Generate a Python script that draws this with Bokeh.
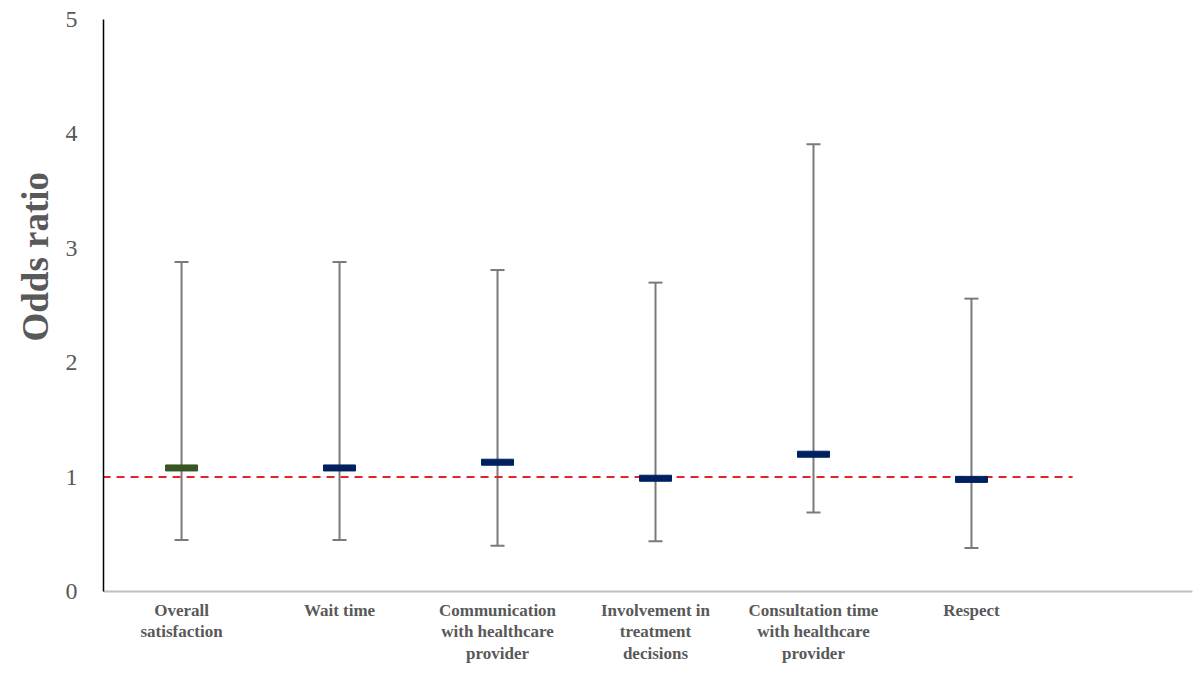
from bokeh.plotting import figure
from bokeh.models import ColumnDataSource, Whisker, TeeHead, FixedTicker, Title, Range1d
from bokeh.embed import file_html
from bokeh.resources import INLINE

categories = ["Overall\nsatisfaction", "Wait time", "Communication\nwith healthcare\nprovider",
              "Involvement in\ntreatment\ndecisions", "Consultation time\nwith healthcare\nprovider",
              "Respect"]
odds = [1.08, 1.08, 1.13, 0.99, 1.20, 0.98]
lower = [0.45, 0.45, 0.40, 0.44, 0.69, 0.38]
upper = [2.88, 2.88, 2.81, 2.70, 3.91, 2.56]
colors = ["#375623", "#002060", "#002060", "#002060", "#002060", "#002060"]
ref_value = 1.0
ref_x = [-0.5, 5.64]
y_ticks = [0, 1, 2, 3, 4, 5]

xs = list(range(len(categories)))
src = ColumnDataSource(dict(x=xs, odds=odds, lower=lower, upper=upper, color=colors))

p = figure(width=1194, height=666, output_backend="svg", toolbar_location=None,
           x_range=Range1d(-0.494, 6.399), y_range=Range1d(0, 5),
           min_border_left=103, min_border_right=2, min_border_top=19, min_border_bottom=74)
p.outline_line_color = None
p.xgrid.grid_line_color = None
p.ygrid.grid_line_color = None
p.background_fill_color = "white"

# reference line
p.line(ref_x, [ref_value, ref_value], line_color="#e0262b", line_width=2, line_dash="8 6")

w = Whisker(source=src, base="x", upper="upper", lower="lower", dimension="height",
            line_color="#7a7a7a", line_width=2,
            upper_head=TeeHead(size=14, line_color="#7a7a7a", line_width=2),
            lower_head=TeeHead(size=14, line_color="#7a7a7a", line_width=2))
p.add_layout(w)

p.rect(x="x", y="odds", width=32, height=6, width_units="screen", height_units="screen",
       fill_color="color", line_color="color", source=src)

# axes
p.yaxis.ticker = FixedTicker(ticks=y_ticks)
p.yaxis.major_tick_line_color = None
p.yaxis.minor_tick_line_color = None
p.yaxis.axis_line_color = "black"
p.yaxis.axis_line_width = 1.5
p.yaxis.major_label_text_font = "Liberation Serif"
p.yaxis.major_label_text_font_size = "24px"
p.yaxis.major_label_text_color = "#595959"
p.yaxis.major_label_standoff = 20

p.xaxis.ticker = FixedTicker(ticks=xs)
p.xaxis.major_label_overrides = {i: c for i, c in enumerate(categories)}
p.xaxis.major_tick_line_color = None
p.xaxis.minor_tick_line_color = None
p.xaxis.axis_line_color = "#c0c0c0"
p.xaxis.axis_line_width = 2
p.xaxis.major_label_text_font = "Liberation Serif"
p.xaxis.major_label_text_font_style = "bold"
p.xaxis.major_label_text_font_size = "17px"
p.xaxis.major_label_text_color = "#595959"
p.xaxis.major_label_standoff = 3
p.xaxis.major_label_text_line_height = 1.15

ttl = Title(text="Odds ratio", align="left", offset=250, standoff=10, vertical_align="top",
            text_font="Liberation Serif", text_font_style="bold", text_font_size="37px",
            text_color="#595959")
p.add_layout(ttl, "left")

open("out.html", "w").write(file_html(p, INLINE))
